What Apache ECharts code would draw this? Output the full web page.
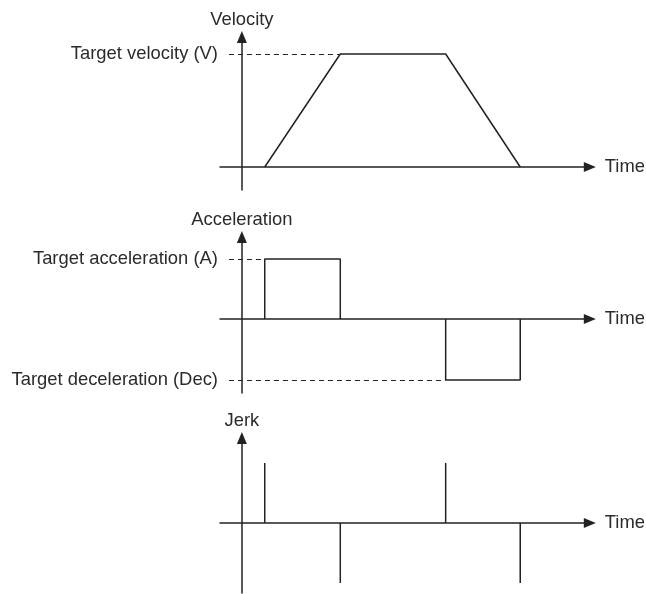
<!DOCTYPE html>
<html>
<head>
<meta charset="utf-8">
<title>Velocity / Acceleration / Jerk</title>
<style>
  html, body { margin: 0; padding: 0; background: #fff; }
  #chart { width: 646px; height: 594px; }
</style>
</head>
<body>
<div id="chart"></div>
<script src="https://cdn.jsdelivr.net/npm/echarts@6/dist/echarts.min.js"></script>
<script>
// time points where the profile changes (same scale in all three panels)
var timeKnots = [23, 99, 205, 280];
var timeRange = [-22, 350];
var refStart = -13;           // where dashed reference lines begin

// velocity profile
var velocityValues = [0, 113, 113, 0];
var targetVelocity = 113;
var velRange = [-23, 130];

// acceleration levels
var targetAccel = 60;
var targetDecel = -61;
var accRange = [-74, 82];

// jerk spikes at each knot
var jerkValues = [60, -60, 60, -60];
var jerkRange = [-70, 85];

var textColor = '#2b2b2b';
var lineColor = '#222';
var fontFamily = '"Liberation Sans", Arial, sans-serif';
var fontSize = 18.4;

var grids = [
  { left: 220, width: 371, top: 37, height: 153 },
  { left: 220, width: 371, top: 237, height: 156 },
  { left: 220, width: 371, top: 438, height: 155 }
];
var yNames = ['Velocity', 'Acceleration', 'Jerk'];
var yRanges = [velRange, accRange, jerkRange];

function makeX(i) {
  return {
    type: 'value', gridIndex: i, min: timeRange[0], max: timeRange[1],
    name: 'Time', nameLocation: 'end', nameGap: 15,
    nameTextStyle: { color: textColor, fontSize: fontSize, fontFamily: fontFamily,
      verticalAlign: 'middle', padding: [3, 0, 0, 0] },
    axisLine: { onZero: true, symbol: ['none', 'triangle'], symbolSize: [10, 12],
      lineStyle: { color: lineColor, width: 1.5 } },
    axisTick: { show: false }, axisLabel: { show: false }, splitLine: { show: false }
  };
}
function makeY(i) {
  return {
    type: 'value', gridIndex: i, min: yRanges[i][0], max: yRanges[i][1],
    name: yNames[i], nameLocation: 'end', nameGap: 8,
    nameTextStyle: { color: textColor, fontSize: fontSize, fontFamily: fontFamily },
    axisLine: { onZero: true, symbol: ['none', 'triangle'], symbolSize: [10, 12],
      lineStyle: { color: lineColor, width: 1.5 } },
    axisTick: { show: false }, axisLabel: { show: false }, splitLine: { show: false }
  };
}

function refLine(y, xEnd, text) {
  return [{ coord: [refStart, y], label: { formatter: text } }, { coord: [xEnd, y] }];
}
var markBase = {
  symbol: 'none', silent: true, animation: false,
  lineStyle: { type: [5, 4], color: lineColor, width: 1 },
  label: { position: 'start', distance: 11, color: textColor, fontSize: fontSize, fontFamily: fontFamily }
};

// build series data from the arrays
var velData = timeKnots.map(function (t, k) { return [t, velocityValues[k]]; });
var accData = [
  [timeKnots[0], 0], [timeKnots[0], targetAccel], [timeKnots[1], targetAccel], [timeKnots[1], 0],
  [timeKnots[1] + 1, '-'],
  [timeKnots[2], 0], [timeKnots[2], targetDecel], [timeKnots[3], targetDecel], [timeKnots[3], 0]
];
var jerkData = [];
timeKnots.forEach(function (t, k) {
  jerkData.push([t, 0], [t, jerkValues[k]], [t, '-']);
});

var lineStyleBase = { color: lineColor, width: 1.5 };

var option = {
  animation: false,
  backgroundColor: '#fff',
  grid: grids,
  xAxis: [makeX(0), makeX(1), makeX(2)],
  yAxis: [makeY(0), makeY(1), makeY(2)],
  series: [
    {
      type: 'line', xAxisIndex: 0, yAxisIndex: 0, data: velData,
      showSymbol: false, symbol: 'none', lineStyle: lineStyleBase,
      markLine: Object.assign({}, markBase, {
        data: [refLine(targetVelocity, timeKnots[1], 'Target velocity (V)')]
      })
    },
    {
      type: 'line', xAxisIndex: 1, yAxisIndex: 1, data: accData,
      showSymbol: false, symbol: 'none', connectNulls: false, lineStyle: lineStyleBase,
      markLine: Object.assign({}, markBase, {
        data: [
          refLine(targetAccel, timeKnots[0], 'Target acceleration (A)'),
          refLine(targetDecel, timeKnots[2], 'Target deceleration (Dec)')
        ]
      })
    },
    {
      type: 'line', xAxisIndex: 2, yAxisIndex: 2, data: jerkData,
      showSymbol: false, symbol: 'none', connectNulls: false, lineStyle: lineStyleBase
    }
  ]
};

var chart = echarts.init(document.getElementById('chart'));
chart.setOption(option);
</script>
</body>
</html>
